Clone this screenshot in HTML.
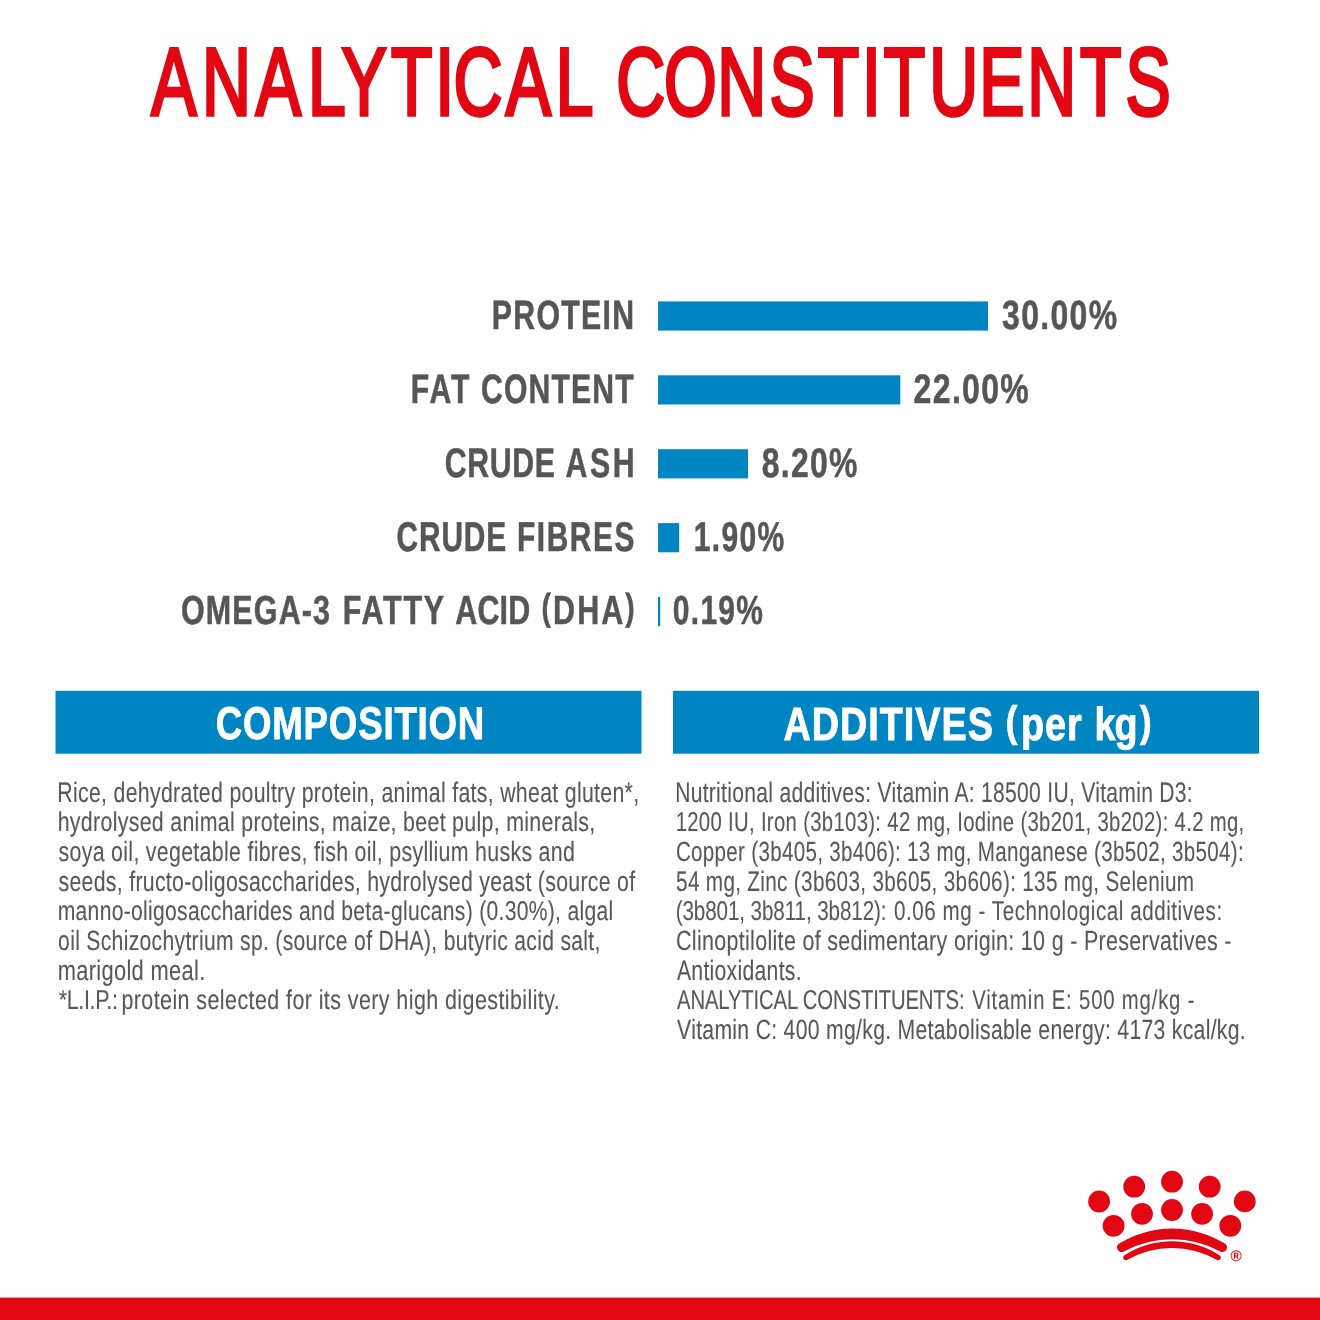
<!DOCTYPE html>
<html lang="en">
<head>
<meta charset="utf-8">
<title>Analytical Constituents</title>
<style>
html,body{margin:0;padding:0;background:#fff;}
body{width:1320px;height:1320px;overflow:hidden;}
svg{display:block;}
text{font-family:"Liberation Sans",sans-serif;font-size:100px;white-space:pre;text-rendering:geometricPrecision;}
</style>
</head>
<body>
<svg width="1320" height="1320" viewBox="0 0 1320 1320">
<rect x="0" y="0" width="1320" height="1320" fill="#ffffff"/>
<!-- title -->
<text transform="matrix(0.6782 0 0 0.9622 0 115)" x="223.2 298.0 377.1 454.3 503.7 576.4 641.9 668.8 745.7 819.4 884.7 908.7 979.1 1057.7 1134.5 1205.6 1271.0 1303.2 1370.1 1443.8 1514.8 1592.6 1659.7" fill="#e20613" stroke="#e20613" stroke-width="3.80" stroke-linejoin="miter" vector-effect="non-scaling-stroke">ANALYTICAL CONSTITUENTS</text>
<!-- chart -->
<rect x="658" y="301.4" width="330.0" height="29.2" fill="#0085c3"/>
<rect x="658" y="375.3" width="242.3" height="29.2" fill="#0085c3"/>
<rect x="658" y="449.2" width="90.0" height="29.2" fill="#0085c3"/>
<rect x="658" y="523.1" width="21.2" height="29.2" fill="#0085c3"/>
<rect x="658" y="597.0" width="2.2" height="29.2" fill="#0085c3"/>
<text transform="matrix(0.3028 0 0 0.4092 0 329)" fill="#565658" font-weight="bold" stroke="#565658" stroke-width="1.30" stroke-linejoin="miter" vector-effect="non-scaling-stroke"><tspan x="1624.2" letter-spacing="4.29">PROTEIN</tspan></text>
<text transform="matrix(0.3022 0 0 0.4121 0 403)" fill="#565658" font-weight="bold" stroke="#565658" stroke-width="1.30" stroke-linejoin="miter" vector-effect="non-scaling-stroke"><tspan x="1359.6" letter-spacing="6.14">FAT</tspan> <tspan x="1591.6" letter-spacing="3.69">CONTENT</tspan></text>
<text transform="matrix(0.3027 0 0 0.4135 0 477)" fill="#565658" font-weight="bold" stroke="#565658" stroke-width="1.30" stroke-linejoin="miter" vector-effect="non-scaling-stroke"><tspan x="1469.1" letter-spacing="2.08">CRUDE</tspan> <tspan x="1867.9" letter-spacing="8.73">ASH</tspan></text>
<text transform="matrix(0.2988 0 0 0.4164 0 551)" fill="#565658" font-weight="bold" stroke="#565658" stroke-width="1.30" stroke-linejoin="miter" vector-effect="non-scaling-stroke"><tspan x="1326.6" letter-spacing="3.07">CRUDE</tspan> <tspan x="1729.9" letter-spacing="5.38">FIBRES</tspan></text>
<text transform="matrix(0.3043 0 0 0.4063 0 624)" fill="#565658" font-weight="bold" stroke="#565658" stroke-width="1.30" stroke-linejoin="miter" vector-effect="non-scaling-stroke"><tspan x="594.6" letter-spacing="3.88">OMEGA-3</tspan> <tspan x="1126.2" letter-spacing="6.03">FATTY</tspan> <tspan x="1495.9" letter-spacing="0.77">ACID</tspan> <tspan x="1779.5" dy="-10.2" font-size="92.4">(</tspan><tspan x="1817.3" dy="10.2" letter-spacing="7.18">DHA</tspan><tspan x="2054.4" dy="-10.2" font-size="92.4">)</tspan></text>
<text transform="matrix(0.3198 0 0 0.4092 0 329)" fill="#565658" font-weight="bold" stroke="#565658" stroke-width="1.30" stroke-linejoin="miter" vector-effect="non-scaling-stroke"><tspan x="3133.6" letter-spacing="4.07">30.00%</tspan></text>
<text transform="matrix(0.3207 0 0 0.4121 0 403)" fill="#565658" font-weight="bold" stroke="#565658" stroke-width="1.30" stroke-linejoin="miter" vector-effect="non-scaling-stroke"><tspan x="2848.8" letter-spacing="4.05">22.00%</tspan></text>
<text transform="matrix(0.3194 0 0 0.4135 0 477)" fill="#565658" font-weight="bold" stroke="#565658" stroke-width="1.30" stroke-linejoin="miter" vector-effect="non-scaling-stroke"><tspan x="2384.6" letter-spacing="4.07">8.20%</tspan></text>
<text transform="matrix(0.3011 0 0 0.4164 0 551)" fill="#565658" font-weight="bold" stroke="#565658" stroke-width="1.30" stroke-linejoin="miter" vector-effect="non-scaling-stroke"><tspan x="2304.1" letter-spacing="4.32">1.90%</tspan></text>
<text transform="matrix(0.2997 0 0 0.4063 0 624)" fill="#565658" font-weight="bold" stroke="#565658" stroke-width="1.30" stroke-linejoin="miter" vector-effect="non-scaling-stroke"><tspan x="2244.9" letter-spacing="4.34">0.19%</tspan></text>
<!-- section headers -->
<rect x="55.5" y="690.8" width="586" height="62.9" fill="#0085c3"/>
<rect x="673" y="690.8" width="586" height="62.9" fill="#0085c3"/>
<text transform="matrix(0.3665 0 0 0.4593 0 739)" fill="#ffffff" font-weight="bold" stroke="#ffffff" stroke-width="1.80" stroke-linejoin="miter" vector-effect="non-scaling-stroke"><tspan x="588.6" letter-spacing="2.18">COMPOSITION</tspan></text>
<text transform="matrix(0.3778 0 0 0.4651 0 740)" fill="#ffffff" font-weight="bold" stroke="#ffffff" stroke-width="1.80" stroke-linejoin="miter" vector-effect="non-scaling-stroke"><tspan x="2074.0" letter-spacing="2.58">ADDITIVES</tspan> <tspan x="2662.2" dy="-9.1" font-size="91.6">(</tspan><tspan x="2702.5" dy="9.1" letter-spacing="2.67">per</tspan> <tspan x="2897.1" letter-spacing="-2.72">kg</tspan><tspan x="3017.4" dy="-9.1" font-size="91.6">)</tspan></text>
<!-- body copy -->
<text transform="matrix(0.2131 0 0 0.2823 0 802)" fill="#58585a" stroke="#58585a" stroke-width="0.35" stroke-linejoin="miter" vector-effect="non-scaling-stroke"><tspan x="268.7" letter-spacing="1.41">Rice, dehydrated poultry protein, animal fats, wheat gluten*,</tspan></text>
<text transform="matrix(0.2137 0 0 0.2726 0 831)" fill="#58585a" stroke="#58585a" stroke-width="0.35" stroke-linejoin="miter" vector-effect="non-scaling-stroke"><tspan x="269.9" letter-spacing="1.40">hydrolysed animal proteins, maize, beet pulp, minerals,</tspan></text>
<text transform="matrix(0.2136 0 0 0.2774 0 861)" fill="#58585a" stroke="#58585a" stroke-width="0.35" stroke-linejoin="miter" vector-effect="non-scaling-stroke"><tspan x="274.2" letter-spacing="1.40">soya oil, vegetable fibres, fish oil, psyllium husks and</tspan></text>
<text transform="matrix(0.2127 0 0 0.2822 0 891)" fill="#58585a" stroke="#58585a" stroke-width="0.35" stroke-linejoin="miter" vector-effect="non-scaling-stroke"><tspan x="275.2" letter-spacing="1.41">seeds, fructo-oligosaccharides, hydrolysed yeast (source of</tspan></text>
<text transform="matrix(0.2109 0 0 0.2725 0 920)" fill="#58585a" stroke="#58585a" stroke-width="0.35" stroke-linejoin="miter" vector-effect="non-scaling-stroke"><tspan x="273.7" letter-spacing="1.42">manno-oligosaccharides and beta-glucans) (0.30%), algal</tspan></text>
<text transform="matrix(0.2114 0 0 0.2773 0 950)" fill="#58585a" stroke="#58585a" stroke-width="0.35" stroke-linejoin="miter" vector-effect="non-scaling-stroke"><tspan x="274.9" letter-spacing="1.42">oil Schizochytrium sp. (source of DHA), butyric acid salt,</tspan></text>
<text transform="matrix(0.2191 0 0 0.2820 0 980)" fill="#58585a" stroke="#58585a" stroke-width="0.35" stroke-linejoin="miter" vector-effect="non-scaling-stroke"><tspan x="263.2" letter-spacing="1.37">marigold meal.</tspan></text>
<text transform="matrix(0.2151 0 0 0.2723 0 1009)" fill="#58585a" stroke="#58585a" stroke-width="0.35" stroke-linejoin="miter" vector-effect="non-scaling-stroke"><tspan x="273.2" letter-spacing="-1.75">*L.I.P.:</tspan> <tspan x="564.4" letter-spacing="1.85">protein selected for its very high digestibility.</tspan></text>
<text transform="matrix(0.2106 0 0 0.2823 0 802)" fill="#58585a" stroke="#58585a" stroke-width="0.35" stroke-linejoin="miter" vector-effect="non-scaling-stroke"><tspan x="3205.8" letter-spacing="1.42">Nutritional additives: Vitamin A: 18500 IU, Vitamin D3:</tspan></text>
<text transform="matrix(0.2035 0 0 0.2726 0 831)" fill="#58585a" stroke="#58585a" stroke-width="0.35" stroke-linejoin="miter" vector-effect="non-scaling-stroke"><tspan x="3320.1" letter-spacing="1.47">1200 IU, Iron (3b103): 42 mg, Iodine (3b201, 3b202): 4.2 mg,</tspan></text>
<text transform="matrix(0.2058 0 0 0.2774 0 861)" fill="#58585a" stroke="#58585a" stroke-width="0.35" stroke-linejoin="miter" vector-effect="non-scaling-stroke"><tspan x="3284.4" letter-spacing="1.46">Copper (3b405, 3b406): 13 mg, Manganese (3b502, 3b504):</tspan></text>
<text transform="matrix(0.2075 0 0 0.2822 0 891)" fill="#58585a" stroke="#58585a" stroke-width="0.35" stroke-linejoin="miter" vector-effect="non-scaling-stroke"><tspan x="3258.1" letter-spacing="1.45">54 mg, Zinc (3b603, 3b605, 3b606): 135 mg, Selenium</tspan></text>
<text transform="matrix(0.2061 0 0 0.2725 0 920)" fill="#58585a" stroke="#58585a" stroke-width="0.35" stroke-linejoin="miter" vector-effect="non-scaling-stroke"><tspan x="3278.4" letter-spacing="-0.44">(3b801, 3b811, 3b812):</tspan> <tspan x="4337.6" letter-spacing="2.66">0.06 mg - Technological additives:</tspan></text>
<text transform="matrix(0.2150 0 0 0.2773 0 950)" fill="#58585a" stroke="#58585a" stroke-width="0.35" stroke-linejoin="miter" vector-effect="non-scaling-stroke"><tspan x="3144.2" letter-spacing="1.40">Clinoptilolite of sedimentary origin: 10 g - Preservatives -</tspan></text>
<text transform="matrix(0.2115 0 0 0.2820 0 980)" fill="#58585a" stroke="#58585a" stroke-width="0.35" stroke-linejoin="miter" vector-effect="non-scaling-stroke"><tspan x="3200.5" letter-spacing="1.42">Antioxidants.</tspan></text>
<text transform="matrix(0.2033 0 0 0.2723 0 1009)" fill="#58585a" stroke="#58585a" stroke-width="0.35" stroke-linejoin="miter" vector-effect="non-scaling-stroke"><tspan x="3330.0" letter-spacing="-0.81">ANALYTICAL CONSTITUENTS:</tspan> <tspan x="4782.1" letter-spacing="3.98">Vitamin E: 500 mg/kg -</tspan></text>
<text transform="matrix(0.2118 0 0 0.2771 0 1039)" fill="#58585a" stroke="#58585a" stroke-width="0.35" stroke-linejoin="miter" vector-effect="non-scaling-stroke"><tspan x="3196.9" letter-spacing="1.42">Vitamin C: 400 mg/kg. Metabolisable energy: 4173 kcal/kg.</tspan></text>
<!-- crown logo -->
<g fill="#e20613">
<circle cx="1099.1" cy="1201.5" r="10.9"/>
<circle cx="1134.2" cy="1186.7" r="10.9"/>
<circle cx="1172" cy="1181.7" r="10.9"/>
<circle cx="1209.7" cy="1186.7" r="10.9"/>
<circle cx="1244.8" cy="1201.4" r="10.9"/>
<circle cx="1113.6" cy="1225.8" r="10.9"/>
<circle cx="1142" cy="1213.9" r="10.9"/>
<circle cx="1172" cy="1210" r="10.9"/>
<circle cx="1202.1" cy="1213.9" r="10.9"/>
<circle cx="1230.3" cy="1225.8" r="10.9"/>
<path d="M1119.2 1243.6 A100.4 100.4 0 0 1 1224.8 1243.6 A4.5 4.5 0 0 1 1220.2 1251.4 A101.3 101.3 0 0 0 1123.8 1251.4 A4.5 4.5 0 0 1 1119.2 1243.6 Z"/>
<path d="M1124.55 1255.2 A87.4 87.4 0 0 1 1219.45 1255.2 A2.7 2.7 0 0 1 1216.55 1259.8 A89.3 89.3 0 0 0 1127.45 1259.8 A2.7 2.7 0 0 1 1124.55 1255.2 Z"/>
</g>
<text transform="matrix(0.152 0 0 0.152 1230.4 1261)" fill="#e20613" font-weight="bold">®</text>
<!-- bottom band -->
<rect x="0" y="1297.6" width="1320" height="22.4" fill="#e30613"/>
</svg>
</body>
</html>
